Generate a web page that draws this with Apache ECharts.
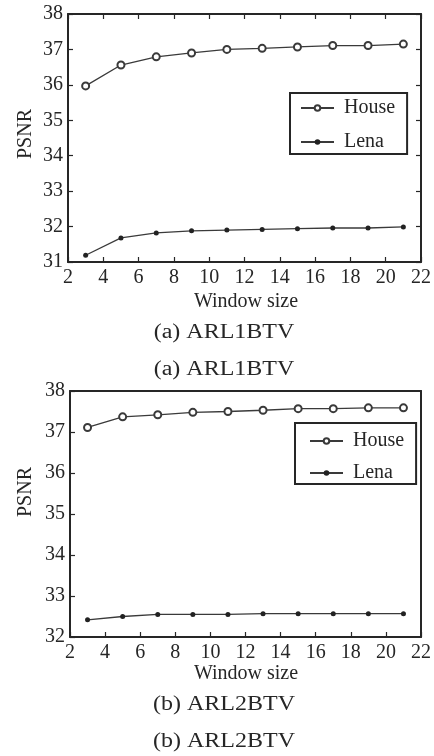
<!DOCTYPE html>
<html>
<head>
<meta charset="utf-8">
<script src="https://cdn.jsdelivr.net/npm/echarts@6/dist/echarts.min.js"></script>
<style>html,body{margin:0;padding:0;background:#fff;}#c{width:434px;height:756px;}</style>
</head>
<body>
<div id="c"></div>
<script>
var windowSizes = [3, 5, 7, 9, 11, 13, 15, 17, 19, 21];
var houseA = [35.97, 36.56, 36.79, 36.90, 37.00, 37.03, 37.07, 37.11, 37.11, 37.15];
var lenaA  = [31.19, 31.68, 31.82, 31.88, 31.90, 31.92, 31.94, 31.96, 31.96, 31.99];
var houseB = [37.11, 37.37, 37.42, 37.48, 37.50, 37.53, 37.57, 37.57, 37.59, 37.59];
var lenaB  = [32.42, 32.50, 32.55, 32.55, 32.55, 32.57, 32.57, 32.57, 32.57, 32.57];
var xTicks = [2, 4, 6, 8, 10, 12, 14, 16, 18, 20, 22];
var yTicksA = [31, 32, 33, 34, 35, 36, 37, 38];
var yTicksB = [32, 33, 34, 35, 36, 37, 38];
var seriesNames = ['House', 'Lena'];
var xName = 'Window size';
var yName = 'PSNR';
var captionsA = ['(a) ARL1BTV', '(a) ARL1BTV'];
var captionsB = ['(b) ARL2BTV', '(b) ARL2BTV'];

var FONT = 'Liberation Serif';
var INK = '#262626';
var LINE = '#3a3a3a';

function pairs(xs, ys) { return xs.map(function (x, i) { return [x, ys[i]]; }); }

function xAxisMain(grid) {
  return {
    type: 'value', gridIndex: grid, min: xTicks[0], max: xTicks[xTicks.length - 1], interval: 2,
    axisLine: { show: true, onZero: false, lineStyle: { color: INK, width: 2 } },
    axisTick: { show: true, inside: true, length: 5, lineStyle: { color: INK, width: 1.2 } },
    axisLabel: { color: INK, fontFamily: FONT, fontSize: 20, margin: 6 },
    splitLine: { show: false }
  };
}
function xAxisTop(grid, ticks) {
  return {
    type: 'value', gridIndex: grid, position: 'top', min: xTicks[0], max: xTicks[xTicks.length - 1], interval: 2,
    axisLine: { show: true, onZero: false, lineStyle: { color: INK, width: 2 } },
    axisTick: { show: ticks, inside: true, length: 5, lineStyle: { color: INK, width: 1.2 } },
    axisLabel: { show: false }, splitLine: { show: false }
  };
}
function yAxisMain(grid, t) {
  return {
    type: 'value', gridIndex: grid, min: t[0], max: t[t.length - 1], interval: 1,
    axisLine: { show: true, onZero: false, lineStyle: { color: INK, width: 2 } },
    axisTick: { show: true, inside: true, length: 5, lineStyle: { color: INK, width: 1.2 } },
    axisLabel: { color: INK, fontFamily: FONT, fontSize: 20, margin: 5 },
    splitLine: { show: false }
  };
}
function yAxisRight(grid, t, ticks) {
  return {
    type: 'value', gridIndex: grid, position: 'right', min: t[0], max: t[t.length - 1], interval: 1,
    axisLine: { show: true, onZero: false, lineStyle: { color: INK, width: 2 } },
    axisTick: { show: ticks, inside: true, length: 5, lineStyle: { color: INK, width: 1.2 } },
    axisLabel: { show: false }, splitLine: { show: false }
  };
}
function houseSeries(xi, yi, data) {
  return {
    name: seriesNames[0], type: 'line', xAxisIndex: xi, yAxisIndex: yi, data: pairs(windowSizes, data),
    symbol: 'emptyCircle', symbolSize: 7, showSymbol: true, showAllSymbol: true, animation: false,
    color: LINE,
    lineStyle: { color: LINE, width: 1.3, type: 'solid' },
    itemStyle: { color: LINE, borderColor: LINE, borderWidth: 1.3 }
  };
}
function lenaSeries(xi, yi, data) {
  return {
    name: seriesNames[1], type: 'line', xAxisIndex: xi, yAxisIndex: yi, data: pairs(windowSizes, data),
    symbol: 'circle', symbolSize: 5, showSymbol: true, showAllSymbol: true, animation: false,
    color: '#222',
    lineStyle: { color: LINE, width: 1.3, type: 'solid' },
    itemStyle: { color: '#222', borderColor: '#222', borderWidth: 0 }
  };
}
function legend(left, top, pad, gap) {
  return {
    orient: 'vertical', left: left, top: top, padding: pad, itemGap: gap,
    itemWidth: 33, itemHeight: 7,
    borderColor: INK, borderWidth: 2, backgroundColor: '#fff',
    selectedMode: false,
    textStyle: { fontFamily: FONT, fontSize: 20, color: INK, padding: [0, 0, 0, 5] },
    data: seriesNames
  };
}
function txt(x, y, s, size, rot, sx) {
  return {
    type: 'text', x: x, y: y, rotation: rot || 0, scaleX: sx || 1,
    style: { text: s, fontFamily: FONT, fontSize: size, fill: INK, align: 'center', verticalAlign: 'middle' }
  };
}

var chart = echarts.init(document.getElementById('c'), null, { renderer: 'canvas' });
chart.setOption({
  backgroundColor: '#fff',
  animation: false,
  grid: [
    { left: 68, right: 11, top: 14, height: 248 },
    { left: 70, right: 11, top: 391, height: 246 }
  ],
  xAxis: [xAxisMain(0), xAxisTop(0, true), xAxisMain(1), xAxisTop(1, false)],
  yAxis: [yAxisMain(0, yTicksA), yAxisRight(0, yTicksA, true), yAxisMain(1, yTicksB), yAxisRight(1, yTicksB, false)],
  legend: [
    legend(290, 93, [5, 12, 2, 10], 14),
    legend(295, 423, [8, 12, 1, 14], 12)
  ],
  series: [
    houseSeries(0, 0, houseA), lenaSeries(0, 0, lenaA),
    houseSeries(2, 2, houseB), lenaSeries(2, 2, lenaB)
  ],
  graphic: [
    txt(26, 134, yName, 20, Math.PI / 2),
    txt(26, 492, yName, 20, Math.PI / 2),
    txt(246, 302, xName, 20),
    txt(246, 674, xName, 20),
    txt(224, 333, captionsA[0], 20, 0, 1.2),
    txt(224, 370, captionsA[1], 20, 0, 1.2),
    txt(224, 705, captionsB[0], 20, 0, 1.2),
    txt(224, 742, captionsB[1], 20, 0, 1.2)
  ]
});
</script>
</body>
</html>
